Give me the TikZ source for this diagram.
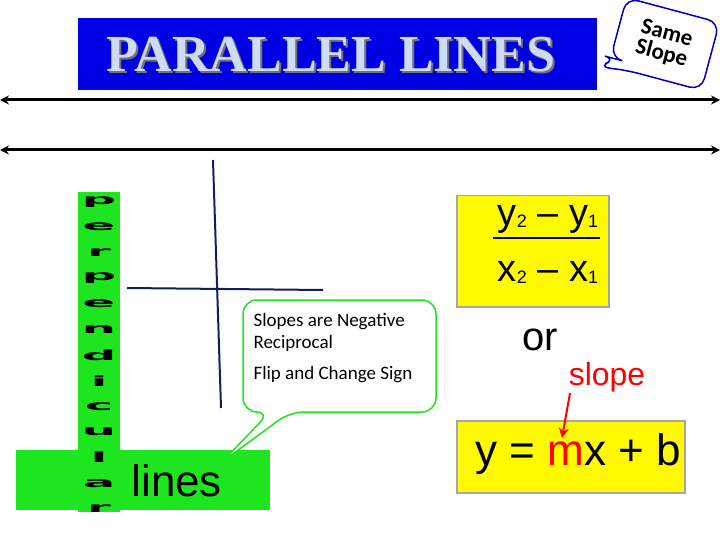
\documentclass[tikz,border=0pt]{standalone}
\usepackage{fontspec}
\setmainfont{Liberation Sans}
\newfontfamily\carl{Carlito}
\newfontfamily\tms{Liberation Serif}
\newfontfamily\dv{DejaVu Sans}
\usetikzlibrary{arrows.meta}
\definecolor{navy}{RGB}{20,30,90}
\definecolor{gr}{RGB}{30,230,30}
\definecolor{yel}{RGB}{255,250,0}
\definecolor{ttl}{RGB}{205,220,245}
\tikzset{axl/.style={line width=3pt,{Stealth[length=9pt,width=9pt]}-{Stealth[length=9pt,width=9pt]}},
pl/.style={navy,line width=2pt},
ybox/.style={fill=yel,draw=gray!70,line width=1.5pt},
letter/.style={font=\fontsize{24}{24}\bfseries\dv,xscale=2.0,yscale=0.58,inner sep=0pt}}
\begin{document}
\begin{tikzpicture}[x=1pt,y=-1pt]
\useasboundingbox (0,0) rectangle (720,540);
% title
\node[fill=blue!90!black,minimum width=519pt,minimum height=72pt,anchor=north west,inner sep=0pt] (title) at (78,18) {};
\node[text=black!55,font=\fontsize{52}{52}\bfseries\tms] at (333,57) {PARALLEL LINES};
\node[text=ttl,font=\fontsize{52}{52}\bfseries\tms] (tt) at (331,55) {PARALLEL LINES};
% same slope bubble
\begin{scope}[shift={(664,44)},rotate=-15]
\draw[blue!70!black,line width=1.5pt,fill=white,rounded corners=12pt] (-48,-35) -- (48,-35) -- (48,35) -- (-28,35) -- (-58,39) -- (-42,27) -- (-48,27) -- cycle;
\end{scope}
\node[font=\fontsize{23}{24}\bfseries\carl,align=center,rotate=-15] (ss) at (664,44) {Same\\[-3pt]Slope};
% parallel lines
\coordinate (a1) at (0,100); \coordinate (a2) at (720,100);
\coordinate (b1) at (0,150); \coordinate (b2) at (720,150);
\draw[axl] (a1) -- (a2);
\draw[axl] (b1) -- (b2);
% perpendicular lines
\coordinate (v1) at (213,160); \coordinate (v2) at (221,408);
\coordinate (h1) at (127,288); \coordinate (h2) at (323,290);
\draw[pl] (v1) -- (v2);
\draw[pl] (h1) -- (h2);
% green
\fill[gr] (78,192) rectangle (120,512);
\fill[gr] (16,450) rectangle (270,510);
\foreach \l [count=\i] in {p,e,r,p,e,n,d,i,c,u,l,a,r}
  \node[letter] at (99,{176+25.6*\i}) {\l};
\fill[white] (16,513) rectangle (270,540);
\node[font=\fontsize{44}{44}\selectfont,anchor=west] (lines) at (128,481) {lines};
% callout
\draw[gr,line width=1.5pt,fill=white,rounded corners=14pt] (243,300) -- (436,300) -- (436,412) -- (290,412) -- (222,462) -- (270,412) -- (243,412) -- cycle;
\node[font=\fontsize{19}{22}\selectfont\carl,align=left,anchor=north west] (sl) at (250,310) {Slopes are Negative\\Reciprocal};
\node[font=\fontsize{19}{22}\selectfont\carl,anchor=north west] (fl) at (250,363) {Flip and Change Sign};
% slope formula
\node[ybox,minimum width=152pt,minimum height=111pt,anchor=north west,inner sep=0pt] (f) at (456,195) {};
\node[font=\fontsize{38}{38}\selectfont] (num) at (548,219) {y\raisebox{-2pt}{\fontsize{18}{18}\selectfont 2} – y\raisebox{-2pt}{\fontsize{18}{18}\selectfont 1}};
\draw[line width=1.2pt] (493,238) -- (600,238);
\node[font=\fontsize{38}{38}\selectfont] (den) at (548,272) {x\raisebox{-2pt}{\fontsize{18}{18}\selectfont 2} – x\raisebox{-2pt}{\fontsize{18}{18}\selectfont 1}};
\node[font=\fontsize{40}{40}\selectfont] (or) at (540,340) {or};
\node[font=\fontsize{32}{32}\selectfont,text=red] (slope) at (607,377) {slope};
\node[ybox,minimum width=228pt,minimum height=72pt,anchor=north west,inner sep=0pt] (eq) at (456,420) {};
\node[font=\fontsize{44}{44}\selectfont] (eqt) at (578,454) {y = \textcolor{red}{m}x + b};
\coordinate (r1) at (570,393);
\draw[red,line width=2pt,-{Stealth[length=10pt,width=10pt]}] (r1) -- (562,438);
\end{tikzpicture}
\end{document}
